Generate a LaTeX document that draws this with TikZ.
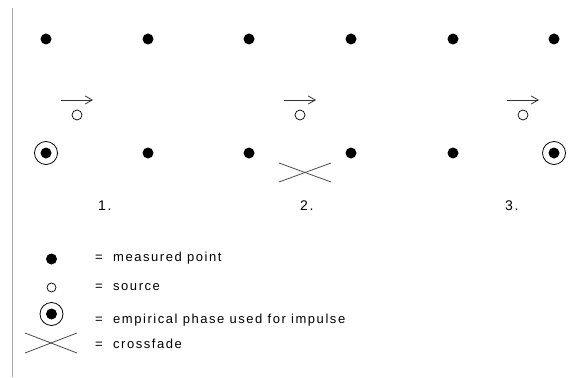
\documentclass[tikz,border=0pt]{standalone}
\usepackage{fontspec}
\setmainfont{Liberation Sans}
\newfontfamily\lab[LetterSpace=12]{Liberation Sans}
\usetikzlibrary{arrows.meta}
\begin{document}
\begin{tikzpicture}[x=1pt,y=-1pt,
  mpt/.style={circle,fill=black,inner sep=0pt,minimum size=11pt},
  src/.style={circle,draw=black,line width=0.7pt,fill=white,inner sep=0pt,minimum size=10pt},
  ring/.style={circle,draw=black,line width=0.8pt,inner sep=0pt,minimum size=23pt},
  xline/.style={draw=black!70,line width=0.8pt},
  arr/.style={draw=black!80,line width=0.8pt,-{Straight Barb[length=7pt,width=8pt]}},
  lbl/.style={font=\lab\fontsize{13}{15}\selectfont,anchor=base west,inner sep=0pt},
  num/.style={font=\lab\fontsize{14}{16}\selectfont,anchor=base west,inner sep=0pt}]
\useasboundingbox (0,0) rectangle (588,377);
\draw[gray!70,line width=0.8pt] (12,8) -- (12,377);
% top row
\node[mpt] (t1) at (46,39) {};
\node[mpt] (t2) at (148,39) {};
\node[mpt] (t3) at (249,39) {};
\node[mpt] (t4) at (351,39) {};
\node[mpt] (t5) at (453,39) {};
\node[mpt] (t6) at (554,39) {};
% bottom row
\node[ring] (r1) at (46,153) {};
\node[mpt] (b1) at (46,153) {};
\node[mpt] (b2) at (148,153) {};
\node[mpt] (b3) at (249,153) {};
\node[mpt] (b4) at (351,153) {};
\node[mpt] (b5) at (453,153) {};
\node[ring] (r6) at (554,153) {};
\node[mpt] (b6) at (554,153) {};
% sources with arrows
\coordinate (a1s) at (61,100); \coordinate (a1e) at (93,100);
\coordinate (a2s) at (284,100); \coordinate (a2e) at (316,100);
\coordinate (a3s) at (507,100); \coordinate (a3e) at (539,100);
\draw[arr] (a1s) -- (a1e);
\draw[arr] (a2s) -- (a2e);
\draw[arr] (a3s) -- (a3e);
\node[src] (s1) at (77,115) {};
\node[src] (s2) at (300,115) {};
\node[src] (s3) at (523,115) {};
% crossfade
\coordinate (c1) at (279,163); \coordinate (c2) at (331,182);
\coordinate (c3) at (279,182); \coordinate (c4) at (331,163);
\draw[xline] (c1) -- (c2);
\draw[xline] (c3) -- (c4);
% numbers
\node[num] (n1) at (98,210.5) {1.};
\node[num] (n2) at (300,210.5) {2.};
\node[num] (n3) at (505,210.5) {3.};
% legend
\node[mpt] (l1) at (51.5,259) {};
\node[src,minimum size=9pt] (l2) at (51.5,287.5) {};
\node[ring] (l3r) at (51.5,314) {};
\node[mpt] (l3) at (51.5,314) {};
\coordinate (lx1) at (25,333); \coordinate (lx2) at (77,353);
\coordinate (lx3) at (25,353); \coordinate (lx4) at (77,333);
\draw[xline] (lx1) -- (lx2);
\draw[xline] (lx3) -- (lx4);
\node[lbl] (tx1) at (95,261) {=\ \ measured point};
\node[lbl] (tx2) at (95,290) {=\ \ source};
\node[lbl] (tx3) at (95,323.5) {=\ \ empirical phase used for impulse};
\node[lbl] (tx4) at (95,348.5) {=\ \ crossfade};
\end{tikzpicture}
\end{document}
